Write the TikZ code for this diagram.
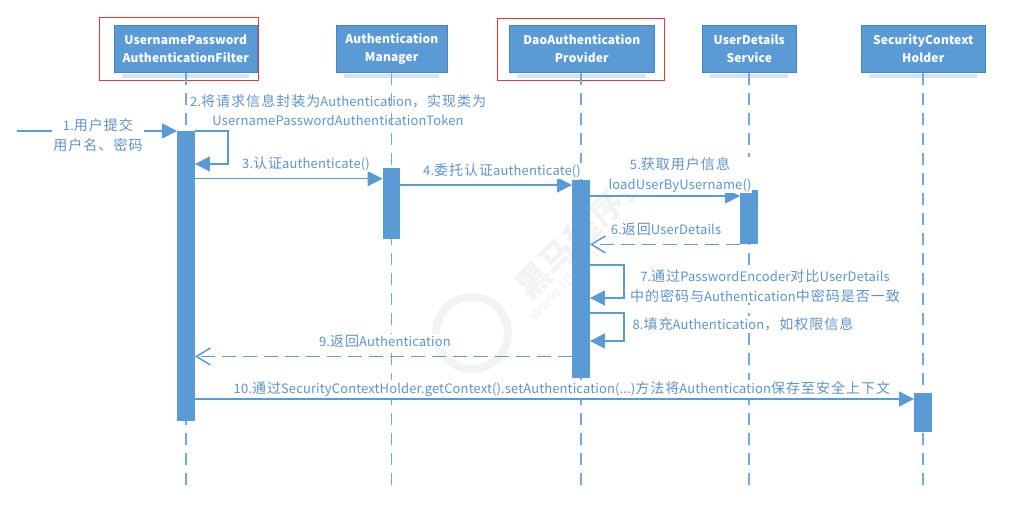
\documentclass[tikz,border=0pt]{standalone}
\usepackage{fontspec}
\setmainfont{Noto Sans CJK SC}[LetterSpace=1]
\newfontfamily\cjfont{Noto Sans CJK SC}[Scale=1.08,LetterSpace=7]
\newcommand{\zh}[1]{{\cjfont #1}}
\usetikzlibrary{arrows.meta,calc}
\definecolor{seq}{HTML}{5B9BD5}
\definecolor{seqtext}{HTML}{5F93CC}
\definecolor{seqsh}{HTML}{D5E4F3}
\definecolor{wm}{HTML}{F3F3F3}
\definecolor{frame}{HTML}{E8383D}
\tikzset{
  x=1pt,y=-1pt,
  headbox/.style={fill=seq,draw=seq!85!black,line width=.5pt,text=white,inner sep=0pt,align=center,font=\fontsize{12}{18}\selectfont\bfseries,anchor=north west},
  bar/.style={fill=seq,draw=none,inner sep=0pt,minimum width=17.5pt,anchor=north},
  life/.style={draw=seq!85,line width=1.8pt,dash pattern=on 12pt off 8pt},
  msg/.style={draw=seq,line width=1.5pt,-{Triangle[length=15pt,width=15pt]}},
  ret/.style={draw=seq,line width=1.5pt,dash pattern=on 14pt off 7pt,-{Straight Barb[length=14pt,width=17pt,line width=1.5pt]}},
  lbl/.style={text=seqtext,inner sep=1pt,fill=white,font=\fontsize{13}{20}\selectfont,align=center},
  redbox/.style={draw=frame,line width=.8pt,fill=none,inner sep=0pt,anchor=north west},
  wmtext/.style={text=wm,inner sep=0pt,rotate=45},
}
\begin{document}
\begin{tikzpicture}
\useasboundingbox (0,0) rectangle (1011,519);
% watermark
\draw[wm,line width=8pt] (472,333) circle (36);
\node[wmtext,font=\fontsize{34}{34}\selectfont\bfseries] (w1) at (582,232) {黑马程序员};
\node[wmtext,font=\fontsize{16}{16}\selectfont] (w2) at (580,268) {www.itheima.com};
% soft shadows
\foreach \xa/\xb in {114/257,336/447,509/654,702/796,861/985}
  \fill[seqsh] (\xa+8,74) rectangle (\xb-8,78);
% heads
\node[headbox,minimum width=143pt,minimum height=47pt] (h1) at (114,25) {UsernamePassword\\AuthenticationFilter};
\node[headbox,minimum width=111pt,minimum height=47pt] (h2) at (336,25) {Authentication\\Manager};
\node[headbox,minimum width=145pt,minimum height=47pt] (h3) at (509,25) {DaoAuthentication\\Provider};
\node[headbox,minimum width=94pt,minimum height=47pt] (h4) at (702,25) {UserDetails\\Service};
\node[headbox,minimum width=124pt,minimum height=47pt] (h5) at (861,25) {SecurityContext\\Holder};
% highlight frames
\node[redbox,minimum width=158.5pt,minimum height=62pt] (r1) at (99,17.5) {};
\node[redbox,minimum width=167pt,minimum height=62pt] (r2) at (496.5,18) {};
% lifeline ends
\coordinate (e1) at (186,489);
\coordinate (e2) at (391.5,489);
\coordinate (e3) at (581,489);
\coordinate (e4) at (749,489);
\coordinate (e5) at (923,489);
\draw[life] (h1.south -| e1) -- (e1);
\draw[life] (h2.south -| e2) -- (e2);
\draw[life] (h3.south -| e3) -- (e3);
\draw[life] (h4.south -| e4) -- (e4);
\draw[life] (h5.south -| e5) -- (e5);
% activation bars
\node[bar,minimum height=290pt] (b1) at (186,131) {};
\node[bar,minimum height=71pt] (b2) at (391.5,168) {};
\node[bar,minimum height=198pt] (b3) at (581,180) {};
\node[bar,minimum height=54pt] (b4) at (749,190) {};
\node[bar,minimum height=39pt] (b5) at (923,393) {};
\coordinate (start) at (17,131);
% messages
\draw[msg] (start) -- (b1.north west);
\node[lbl,minimum width=91pt] (l1) at (98,135) {1.\zh{用户提交}\\\zh{用户名、密码}};
\draw[msg] (b1.north east) -- ++(33,0) |- (b1.east |- 0,164);
\node[lbl,anchor=west,fill=none] (l2a) at (189,101) {2.\zh{将请求信息封装为}Authentication\zh{，实现类为}};
\node[lbl,fill=none] (l2b) at (338,120) {UsernamePasswordAuthenticationToken};
\draw[msg] (b1.east |- 0,178.7) -- (b2.west |- 0,178.7);
\node[lbl] (l3) at (306,164) {3.\zh{认证}authenticate()};
\draw[msg] (b2.east |- 0,185) -- (b3.west |- 0,185);
\node[lbl] (l4) at (502,171) {4.\zh{委托认证}authenticate()};
\draw[msg] (b3.east |- 0,196) -- (b4.west |- 0,196);
\node[lbl] (l5) at (680,175) {5.\zh{获取用户信息}\\loadUserByUsername()};
\draw[ret] (b4.south west) -- (b3.east |- b4.south);
\node[lbl] (l6) at (666,229) {6.\zh{返回}UserDetails};
\draw[msg] (b3.east |- 0,265) -- ++(34,0) |- (b3.east |- 0,298);
\node[lbl] (l7) at (765,286) {7.\zh{通过}PasswordEncoder\zh{对比}UserDetails\\\zh{中的密码与}Authentication\zh{中密码是否一致}};
\draw[msg] (b3.east |- 0,313) -- ++(34,0) |- (b3.east |- 0,341);
\node[lbl] (l8) at (743,324) {8.\zh{填充}Authentication\zh{，如权限信息}};
\draw[ret] (b3.west |- 0,356.5) -- (b1.east |- 0,356.5);
\node[lbl] (l9) at (385,341) {9.\zh{返回}Authentication};
\draw[msg] (b1.east |- 0,399) -- (b5.west |- 0,399);
\node[lbl] (l10) at (562,389) {10.\zh{通过}SecurityContextHolder.getContext().setAuthentication(...)\zh{方法将}Authentication\zh{保存至安全上下文}};
\end{tikzpicture}
\end{document}
